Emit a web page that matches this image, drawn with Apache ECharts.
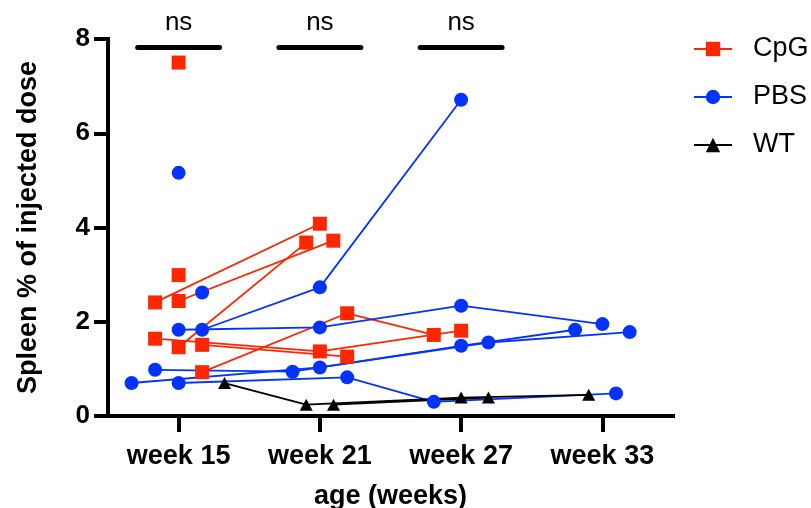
<!DOCTYPE html>
<html>
<head>
<meta charset="utf-8">
<script src="https://cdn.jsdelivr.net/npm/echarts@6/dist/echarts.min.js"></script>
<style>
  html, body { margin: 0; padding: 0; background: #fff; }
  #chart { width: 811px; height: 508px; }
</style>
</head>
<body>
<div id="chart"></div>
<script>
// Time points and their axis labels
const weeks = [15, 21, 27, 33];
const weekLabels = ['week 15', 'week 21', 'week 27', 'week 33'];

// Spleen uptake (% of injected dose) per animal, one row per animal, one column per time point
const cpgTracks = [
  [7.50, null, null, null],
  [2.99, null, null, null],
  [2.41, 4.08, null, null],
  [2.44, 3.72, null, null],
  [1.46, 3.68, null, null],
  [1.64, 1.37, 1.81, null],
  [1.51, 1.26, null, null],
  [0.93, 2.18, 1.72, null]
];
const pbsTracks = [
  [5.16, null, null, null],
  [2.62, null, null, null],
  [1.83, 2.73, 6.71, null],
  [1.83, 1.88, 2.34, 1.95],
  [0.70, 0.82, 0.30, 0.48],
  [0.98, 0.94, 1.49, 1.83],
  [0.70, 1.03, 1.56, 1.78]
];
const wtTracks = [
  [0.70, 0.24, 0.39, 0.45],
  [null, 0.24, 0.39, null]
];

// Comparisons shown above the groups
const sigWeeks = [15, 21, 27];
const sigLabels = ['ns', 'ns', 'ns'];

// Horizontal spread (in weeks) so overlapping animals stay visible
const cpgSpread = [
  [0, 0, 0, 0],
  [0, 0, 0, 0],
  [-1, 0, 0, 0],
  [0, 0.57, 0, 0],
  [0, -0.58, 0, 0],
  [-1, 0, 0, 0],
  [1, 1.16, 0, 0],
  [1, 1.16, -1.16, 0]
];
const pbsSpread = [
  [0, 0, 0, 0],
  [1, 0, 0, 0],
  [1, 0, 0, 0],
  [0, 0, 0, 0],
  [0, 1.16, -1.16, 0.58],
  [-1, -1.16, 0, -1.16],
  [-2, 0, 1.16, 1.16]
];
const wtSpread = [
  [1.95, -0.58, 0, -0.58],
  [0, 0.58, 1.16, 0]
];

const FONT = "'Liberation Sans', Arial, Helvetica, sans-serif";
const RED = '#FF2600';
const BLUE = '#0433FF';
const BLACK = '#000000';
const SIG_LEVEL = 7.82;
const SIG_HALF = 1.74;

function buildSeries(name, tracks, spread, color, symbol, symbolSize) {
  return tracks.map((row, i) => {
    const data = [];
    row.forEach((v, j) => {
      if (v !== null) data.push([weeks[j] + spread[i][j], v]);
    });
    return {
      name: name,
      type: 'line',
      data: data,
      symbol: symbol,
      symbolSize: symbolSize,
      showAllSymbol: true,
      itemStyle: { color: color },
      lineStyle: { color: color, width: 1.8 },
      emphasis: { disabled: true },
      animation: false,
      z: 3
    };
  });
}

const series = []
  .concat(buildSeries('CpG', cpgTracks, cpgSpread, RED, 'rect', 14))
  .concat(buildSeries('PBS', pbsTracks, pbsSpread, BLUE, 'circle', 14))
  .concat(buildSeries('WT', wtTracks, wtSpread, BLACK, 'triangle', [13, 12]));

series.push({
  type: 'custom',
  name: 'sig',
  data: sigWeeks.map(w => [w, SIG_LEVEL]),
  animation: false,
  silent: true,
  z: 5,
  renderItem: function (params, api) {
    const c = api.coord([api.value(0), api.value(1)]);
    const l = api.coord([api.value(0) - SIG_HALF, api.value(1)]);
    const r = api.coord([api.value(0) + SIG_HALF, api.value(1)]);
    return {
      type: 'group',
      children: [
        {
          type: 'line',
          shape: { x1: l[0], y1: l[1], x2: r[0], y2: r[1] },
          style: { stroke: BLACK, lineWidth: 5, lineCap: 'round' }
        },
        {
          type: 'text',
          style: {
            text: sigLabels[params.dataIndex],
            x: c[0], y: c[1] - 25,
            align: 'center', verticalAlign: 'middle',
            font: '26px ' + FONT,
            fill: BLACK
          }
        }
      ]
    };
  }
});

const chart = echarts.init(document.getElementById('chart'), null, { renderer: 'canvas' });
chart.setOption({
  animation: false,
  backgroundColor: '#fff',
  grid: { left: 108, right: 138, top: 39, bottom: 92, containLabel: false, outerBoundsMode: 'none' },
  legend: {
    data: ['CpG', 'PBS', 'WT'],
    orient: 'vertical',
    left: 693,
    top: 35,
    padding: 0,
    itemWidth: 38,
    itemHeight: 18,
    itemGap: 20,
    selectedMode: false,
    textStyle: { fontFamily: FONT, fontSize: 27, color: BLACK, lineHeight: 28, padding: [0, 0, 0, 16] }
  },
  xAxis: {
    type: 'value',
    min: 12,
    max: 36,
    name: 'age (weeks)',
    nameLocation: 'middle',
    nameGap: 67,
    nameTextStyle: { fontFamily: FONT, fontSize: 27, fontWeight: 'bold', color: BLACK },
    axisLine: { show: true, onZero: false, lineStyle: { color: BLACK, width: 4, cap: 'square' } },
    axisTick: { show: true, customValues: weeks, length: 16, lineStyle: { color: BLACK, width: 4 } },
    axisLabel: {
      customValues: weeks,
      formatter: v => weekLabels[weeks.indexOf(v)],
      margin: 27,
      fontFamily: FONT, fontSize: 27, fontWeight: 'bold', color: BLACK
    },
    splitLine: { show: false }
  },
  yAxis: {
    type: 'value',
    min: 0,
    max: 8,
    interval: 2,
    name: 'Spleen % of injected dose',
    nameLocation: 'middle',
    nameGap: 66,
    nameTextStyle: { fontFamily: FONT, fontSize: 27, fontWeight: 'bold', color: BLACK },
    axisLine: { show: true, onZero: false, lineStyle: { color: BLACK, width: 4, cap: 'square' } },
    axisTick: { show: true, length: 14, lineStyle: { color: BLACK, width: 4 } },
    axisLabel: { margin: 18, fontFamily: FONT, fontSize: 26, fontWeight: 'bold', color: BLACK },
    splitLine: { show: false }
  },
  series: series
});
</script>
</body>
</html>
